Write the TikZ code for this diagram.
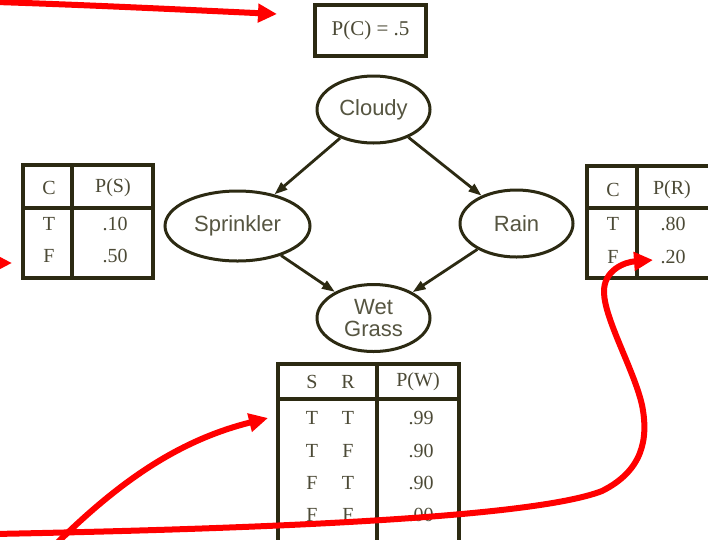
\documentclass[tikz,border=0pt]{standalone}
\usepackage{fontspec}
\setmainfont{Liberation Serif}
\newfontfamily\labelfont{Liberation Sans}
\usetikzlibrary{arrows.meta,shapes.geometric}
\definecolor{ink}{RGB}{44,42,18}
\definecolor{note}{RGB}{255,0,0}

\begin{document}
\begin{tikzpicture}[x=1pt,y=-1pt,
  var/.style={ellipse, draw=ink, line width=3pt, inner sep=0pt,
    font=\labelfont\fontsize{22}{22.5}\selectfont, text=ink!80, align=center},
  link/.style={draw=ink, line width=2.8pt, -{Triangle[length=13pt,width=9pt]}},
  rule/.style={draw=ink, line width=3.2pt},
  cell/.style={font=\fontsize{20}{20}\selectfont, text=ink!85, inner sep=0pt},
  remark/.style={draw=note, line width=6pt, -{Triangle[length=19pt,width=18pt]}}
]
\useasboundingbox (0,0) rectangle (708,539);
\clip (0,0) rectangle (708,539);
\fill[white] (0,0) rectangle (708,539);

% prior of the root variable
\node[rule, minimum width=111pt, minimum height=51pt, inner sep=0pt,
      font=\fontsize{21}{21}\selectfont, text=ink!85] (pc) at (370.5,30.5) {P(C) = .5};

% network variables
\node[var, minimum width=113pt, minimum height=67pt] (cloudy) at (373.5,109.5) {Cloudy};
\node[var, minimum width=145pt, minimum height=70pt] (sprinkler) at (237.5,226) {Sprinkler};
\node[var, minimum width=113pt, minimum height=67pt] (rain) at (516.5,223.5) {Rain};
\node[var, minimum width=113pt, minimum height=67pt] (wet) at (373.5,318)
  {Wet\\Grass};

% dependencies
\draw[link] (cloudy) -- (sprinkler);
\draw[link] (cloudy) -- (rain);
\draw[link] (sprinkler) -- (wet);
\draw[link] (rain) -- (wet);

% table for P(S | C)
\draw[rule] (23,165) rectangle (153,278);
\draw[rule] (72,165) -- (72,278);
\draw[rule] (23,208) -- (153,208);
\node[cell] (sc) at (49,188) {C};
\node[cell] (sp) at (113,188) {P(S)};
\node[cell] (sc1) at (49,224) {T};
\node[cell] (sp1) at (115,224) {.10};
\node[cell] (sc2) at (49,256) {F};
\node[cell] (sp2) at (115,256) {.50};

% table for P(R | C)
\draw[rule] (714,166) -- (587,166) -- (587,278) -- (714,278);
\draw[rule] (637,166) -- (637,278);
\draw[rule] (587,208) -- (714,208);
\node[cell] (rc) at (613,190) {C};
\node[cell] (rp) at (672,190) {P(R)};
\node[cell] (rc1) at (613,224) {T};
\node[cell] (rp1) at (673,224) {.80};
\node[cell] (rc2) at (613,257) {F};
\node[cell] (rp2) at (673,257) {.20};

% table for P(W | S, R)
\draw[rule] (278,545) -- (278,364) -- (459,364) -- (459,545);
\draw[rule] (377,364) -- (377,545);
\draw[rule] (278,399) -- (459,399);
\node[cell] (ws) at (312,382) {S};
\node[cell] (wr) at (348,382) {R};
\node[cell] (wp) at (418,382) {P(W)};
\node[cell] (ws1) at (312,418) {T};
\node[cell] (wr1) at (348,418) {T};
\node[cell] (wp1) at (421,418) {.99};
\node[cell] (ws2) at (312,451) {T};
\node[cell] (wr2) at (348,451) {F};
\node[cell] (wp2) at (421,451) {.90};
\node[cell] (ws3) at (312,483) {F};
\node[cell] (wr3) at (348,483) {T};
\node[cell] (wp3) at (421,483) {.90};
\node[cell] (ws4) at (312,515) {F};
\node[cell] (wr4) at (348,515) {F};
\node[cell] (wp4) at (421,515) {.00};

% hand-drawn pointers
\coordinate (a1s) at (-4,2);
\coordinate (a1e) at (277,14);
\coordinate (a2s) at (-12,263);
\coordinate (a2e) at (12,263);
\coordinate (a3s) at (52,548);
\coordinate (a3e) at (268,418);
\coordinate (a4s) at (-6,534);
\coordinate (a4e) at (653,260);

\draw[remark] (a1s) .. controls (90,5) and (190,10) .. (a1e);
\draw[remark] (a2s) -- (a2e);
\draw[remark] (a3s) .. controls (120,480) and (180,440) .. (a3e);
\draw[remark] (a4s) .. controls (350,527) and (545,513) .. (602,491)
  .. controls (642,471) and (649,440) .. (642,405)
  .. controls (634,370) and (605,320) .. (604,293)
  .. controls (603,270) and (625,262) .. (a4e);
\end{tikzpicture}
\end{document}
